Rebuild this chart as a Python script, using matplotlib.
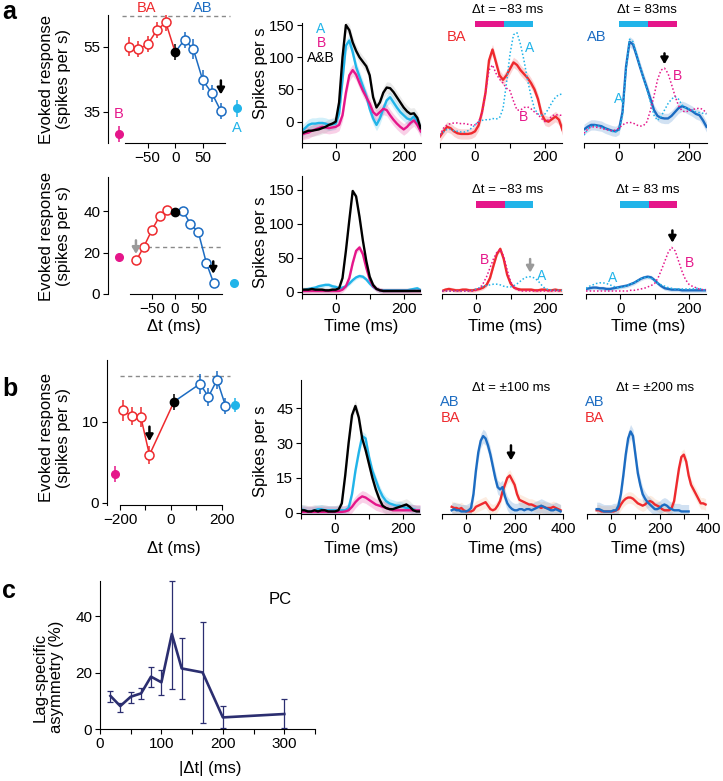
import numpy as np
import matplotlib
matplotlib.use("Agg")
import matplotlib.pyplot as plt
from matplotlib.patches import Rectangle

plt.rcParams['font.family'] = ['Liberation Sans', 'DejaVu Sans']
plt.rcParams['axes.linewidth'] = 0.8

RED = '#ee2a2e'
BLUE = '#1c6cc2'
CYAN = '#21b4e9'
MAG = '#e5168a'
NAVY = '#2b2e70'
GREY = '#8a8a8a'

# ---------------- tuning curves (a top, a bottom, b) ----------------
a1_ba_lag = [-83, -67, -50, -33, -17]
a1_ba = [55.0, 54.2, 55.7, 60.1, 62.4]
a1_ba_err = [3.0, 2.5, 2.5, 2.5, 2.5]
a1_sim = 53.3
a1_sim_err = 2.5
a1_ab_lag = [17, 33, 50, 67, 83]
a1_ab = [57.1, 54.2, 44.7, 40.6, 35.2]
a1_ab_err = [2.5, 3.0, 3.0, 2.5, 2.5]
a1_single_x = [-102, 113]      # B, A
a1_single = [28.1, 36.0]
a1_single_err = [2.5, 2.5]
a1_sum = 64.4

a2_ba_lag = [-83, -67, -50, -33, -17]
a2_ba = [16.4, 22.9, 30.9, 37.8, 40.8]
a2_sim = 39.5
a2_ab_lag = [17, 33, 50, 67, 83]
a2_ab = [40.2, 34.0, 29.9, 15.2, 5.2]
a2_single_x = [-120, 127]
a2_single = [18.1, 5.2]
a2_sum = 22.9

b_ba_lag = [-187, -154, -118, -84]
b_ba = [11.4, 10.7, 10.6, 5.9]
b_ba_err = [1.3, 1.1, 1.2, 1.1]
b_sim_lag = 13
b_sim = 12.5
b_ab_lag = [115, 148, 182, 215]
b_ab = [14.7, 13.1, 15.2, 12.0]
b_ab_err = [1.2, 1.1, 1.1, 1.0]
b_single_x = [-219, 254]
b_single = [3.5, 12.1]
b_sum = 15.7

# ---------------- PSTHs (spikes per s) ----------------
t_a = np.arange(-100, 251, 10)
# a, top row
a1_A = [-15, -10, -5, -3, -3, -2, -2, -3, -5, -4, -3, 12, 65, 118, 126, 108, 85, 70, 55, 40,
        20, 5, -5, 5, 20, 33, 38, 30, 22, 15, 10, 5, 3, 8, 0, -12]
a1_B = [-20, -18, -17, -14, -12, -10, -8, -9, -10, -9, -8, -5, 10, 45, 72, 80, 73, 60, 48, 38,
        28, 15, 10, 15, 20, 18, 10, 3, -3, -8, -12, -8, -2, 2, -5, -15]
a1_AandB = [-18, -16, -14, -14, -13, -12, -10, -8, -5, -3, 0, 30, 100, 150, 142, 123, 110, 100, 93, 86,
            72, 38, 22, 30, 45, 53, 52, 46, 38, 30, 22, 16, 12, 13, 6, -10]
a1_BA = [-23, -15, -8, -10, -15, -18, -19, -19, -19, -18, -15, -6, 15, 45, 95, 112, 92, 72, 65, 72,
         82, 92, 88, 80, 74, 68, 60, 50, 35, 12, 2, 0, 4, 8, 3, -13]
a1_BA_A = [-20, -16, -12, -12, -14, -15, -16, -16, -14, -10, -5, 0, 2, 3, 3, 5, 4, 6, 20, 60,
           105, 135, 138, 120, 95, 65, 40, 20, 12, 10, 12, 20, 30, 38, 42, 43]
a1_BA_B = [-21, -10, -5, -3, -2, -2, -3, -3, -4, -5, -5, 0, 12, 45, 80, 88, 75, 66, 60, 52,
           48, 32, 18, 18, 22, 23, 20, 15, 11, 5, 0, 3, 9, 11, 10, 10]
a1_AB = [-12, -8, -5, -5, -6, -7, -10, -12, -14, -15, -12, 15, 85, 124, 120, 103, 85, 68, 52, 35,
         18, 9, 6, 5, 5, 9, 15, 21, 24, 22, 19, 16, 12, 10, 2, -8]
a1_AB_A = [-21, -12, -8, -6, -7, -9, -11, -13, -15, -16, -13, 10, 80, 128, 124, 105, 86, 68, 50, 30,
           10, 2, 8, 18, 28, 35, 39, 35, 26, 22, 20, 18, 15, 14, 13, 12]
a1_AB_B = [-18, -12, -8, -8, -9, -10, -12, -13, -14, -13, -10, -5, -2, -1, -2, -5, -7, -6, 0, 18,
           40, 65, 80, 83, 75, 58, 40, 25, 17, 15, 17, 19, 20, 21, 19, 13]
# a, bottom row
a2_A = [2, 3, 4, 5, 6, 8, 9, 10, 10, 8, 7, 5, 6, 8, 12, 17, 21, 23, 22, 18,
        12, 7, 4, 2, 2, 2, 2, 2, 2, 2, 2, 2, 3, 4, 5, 2]
a2_B = [1, 1, 1, 1, 1, 1, 1, 1, 1, 1, 1, 1, 3, 8, 20, 42, 60, 65, 55, 35,
        18, 8, 4, 2, 1, 1, 1, 1, 1, 1, 1, 1, 1, 1, 1, 1]
a2_AandB = [3, 3, 3, 4, 3, 3, 3, 2, 2, 3, 3, 5, 20, 60, 105, 148, 140, 110, 75, 45,
            22, 10, 4, 2, 1, 1, 1, 1, 1, 1, 1, 1, 1, 1, 1, 1]
a2_BA = [1, 3, 4, 3, 2, 2, 3, 3, 2, 2, 3, 4, 6, 10, 20, 38, 55, 63, 48, 25,
         12, 6, 4, 3, 3, 3, 3, 2, 2, 3, 3, 2, 2, 3, 2, 2]
a2_BA_A = [1, 1, 1, 1, 1, 1, 1, 1, 1, 2, 4, 6, 8, 9, 10, 11, 11, 10, 8, 7,
           7, 9, 12, 16, 20, 22, 22, 20, 16, 10, 5, 3, 2, 2, 2, 2]
a2_BA_B = [1, 1, 1, 1, 1, 1, 1, 1, 1, 1, 2, 5, 12, 22, 35, 48, 58, 62, 52, 32,
           15, 6, 3, 1, 1, 1, 1, 1, 1, 1, 1, 1, 1, 1, 1, 1]
a2_AB = [4, 5, 6, 6, 5, 5, 4, 4, 5, 6, 7, 8, 9, 11, 13, 16, 19, 21, 22, 21,
         17, 12, 8, 5, 4, 3, 3, 3, 2, 2, 2, 2, 2, 2, 2, 2]
a2_AB_A = [5, 8, 10, 12, 13, 13, 12, 10, 8, 6, 6, 7, 9, 11, 13, 16, 19, 21, 21, 20,
           16, 12, 10, 8, 6, 5, 4, 4, 4, 4, 4, 4, 5, 5, 3, 2]
a2_AB_B = [1, 1, 1, 1, 1, 1, 1, 1, 1, 1, 1, 1, 1, 2, 2, 3, 4, 5, 7, 9,
           12, 20, 32, 45, 58, 65, 60, 45, 30, 18, 11, 8, 6, 4, 3, 3]
# b, middle
b_A = [1.5, 1, 0.5, 0.5, 1, 1.5, 1.5, 1, 1, 1, 1, 1, 1, 1, 2, 8, 18, 26, 33, 32,
       24, 18, 14, 10, 7, 5, 4, 3.5, 3, 3, 2.5, 2, 2, 1.5, 1, 1]
b_B = [0.3, 0.3, 0.3, 0.3, 0.3, 0.3, 0.3, 0.3, 0.3, 0.3, 0.3, 0.3, 0.3, 0.5, 1, 2.5, 4.5, 6, 7, 6.5,
       5.5, 4.5, 3.5, 3, 2.5, 2, 1.5, 1, 1, 1, 1, 1, 1, 1, 1, 1]
b_AandB = [1, 1, 0.5, 0.5, 1, 0.5, 1, 1, 0.5, 0.5, 0.5, 1, 4, 16, 30, 42, 46, 41, 32, 27,
           21, 15, 10, 6, 3, 2, 1.5, 1.5, 2, 2.5, 3, 3.5, 2.5, 1, 0.5, 0.5]
# b, right panels
t_b = np.arange(-60, 391, 10)
b100_AB = [1, 1.5, 1, 1, 0.5, 0.5, 0.5, 1, 2, 8, 18, 26, 31, 33, 32, 29, 25, 20, 15, 11,
           10, 11, 7, 4, 2.5, 1.5, 1, 1, 1.5, 1.5, 1, 1.5, 1.5, 1, 1.5, 2, 2.5, 3, 2.5, 2,
           1.5, 1, 1, 1.5, 1, 0.5]
b100_BA = [2.5, 2, 2, 1.5, 2, 1, 0.5, 0.5, 0.5, 1, 2.5, 3, 3.5, 4, 4.5, 3, 1.5, 1, 1.5, 3,
           5, 9, 12, 15, 16, 14, 12, 8, 5.5, 5, 4.5, 4, 3.5, 3.5, 3, 2.5, 2.5, 2, 2.5, 2,
           2, 2, 2.5, 2, 1.5, 1]
b200_AB = [1.5, 1.5, 1, 0.5, 0.5, 0.5, 0.5, 1, 1, 3, 8, 16, 25, 32, 35, 33, 25, 17, 12, 8,
           6, 4.5, 3.5, 2.5, 1.5, 1.5, 2, 3, 3.5, 3, 2, 1.5, 1, 1, 1, 0.5, 0.5, 0.5, 0.5,
           np.nan, np.nan, np.nan, np.nan, np.nan, np.nan, np.nan]
b200_BA = [1, 1, 0.5, 0.5, 0.5, 0.5, 0.5, 0.5, 1, 1.5, 3.5, 5, 6, 6.5, 6.5, 6, 5, 4, 3.5, 3,
           3.5, 4.5, 5, 4.5, 3.5, 3, 2.5, 1.5, 1, 1, 1, 2, 5, 12, 19, 24, 25, 22, 16, 12,
           10, 8, 6, 4, 4, 3.5]

# ---------------- c ----------------
c_lag = [17, 33, 50, 67, 83, 100, 117, 133, 167, 200, 300]
c_asym = [11.8, 8.2, 11.5, 12.7, 18.6, 16.6, 33.7, 21.5, 20.1, 4.2, 5.4]
c_hi = [13.6, 9.4, 13.3, 14.5, 22.1, 21.0, 52.5, 32.4, 38.0, 8.3, 10.6]
c_lo = [9.8, 6.2, 9.4, 10.6, 14.8, 12.1, 14.2, 10.6, 2.1, 0.3, 0.3]

W, H = 723, 781
fig = plt.figure(figsize=(W / 100, H / 100), dpi=100)


def axpx(l, t, r, b):
    return fig.add_axes([l / W, 1 - b / H, (r - l) / W, (b - t) / H])


def ftext(x, y, s, **kw):
    kw.setdefault('ha', 'center')
    kw.setdefault('va', 'center')
    fig.text(x / W, 1 - y / H, s, **kw)


def style(ax, left=True):
    ax.spines['top'].set_visible(False)
    ax.spines['right'].set_visible(False)
    ax.tick_params(direction='out', length=3.5, width=0.8, labelsize=11, pad=2)
    ax.patch.set_alpha(0)
    if not left:
        ax.spines['left'].set_visible(False)
        ax.tick_params(left=False, labelleft=False)


def arrow(ax, x, y0, y1, color='k'):
    ax.annotate('', xy=(x, y1), xytext=(x, y0), annotation_clip=False,
                arrowprops=dict(arrowstyle='-|>,head_width=0.22,head_length=0.38',
                                color=color, lw=1.8, shrinkA=0, shrinkB=0))


def tuning(ax, ba_lag, ba, sim_lag, sim, ab_lag, ab, sx, sy,
           ba_err=None, sim_err=None, ab_err=None, s_err=None):
    ax.plot(list(ba_lag) + [sim_lag], list(ba) + [sim], color=RED, lw=1.1, zorder=2)
    ax.plot([sim_lag] + list(ab_lag), [sim] + list(ab), color=BLUE, lw=1.1, zorder=2)
    if ba_err is not None:
        ax.errorbar(ba_lag, ba, yerr=ba_err, fmt='none', ecolor=RED, elinewidth=1.1, zorder=1)
        ax.errorbar(ab_lag, ab, yerr=ab_err, fmt='none', ecolor=BLUE, elinewidth=1.1, zorder=1)
        ax.errorbar([sim_lag], [sim], yerr=[sim_err], fmt='none', ecolor='k', elinewidth=1.1, zorder=1)
        ax.errorbar(sx[:1], sy[:1], yerr=s_err[:1], fmt='none', ecolor=MAG, elinewidth=1.1)
        ax.errorbar(sx[1:], sy[1:], yerr=s_err[1:], fmt='none', ecolor=CYAN, elinewidth=1.1)
    ax.plot(ba_lag, ba, 'o', mfc='white', mec=RED, ms=6.5, mew=1.1, zorder=3)
    ax.plot(ab_lag, ab, 'o', mfc='white', mec=BLUE, ms=6.5, mew=1.1, zorder=3)
    ax.plot([sim_lag], [sim], 'o', color='k', ms=6, zorder=3)
    ax.plot(sx[:1], sy[:1], 'o', color=MAG, ms=5.5, zorder=3, clip_on=False)
    ax.plot(sx[1:], sy[1:], 'o', color=CYAN, ms=5.5, zorder=3, clip_on=False)


def trace(ax, t, y, color, sem=None, band=None):
    y = np.asarray(y, float)
    if sem is not None:
        ax.fill_between(t, y - sem, y + sem, color=band or color, alpha=0.2, lw=0)
    ax.plot(t, y, color=color, lw=1.7)


def dotted(ax, t, y, color):
    ax.plot(t, y, color=color, lw=1.1, ls=(0, (1, 1.4)))


def time_ticks(ax, ticks, labeled):
    ax.set_xticks(ticks)
    ax.set_xticklabels([str(v) if v in labeled else '' for v in ticks])


# ---- a, top left
ax = axpx(108, 15, 244, 143)
style(ax)
tuning(ax, a1_ba_lag, a1_ba, 0, a1_sim, a1_ab_lag, a1_ab, a1_single_x, a1_single,
       a1_ba_err, a1_sim_err, a1_ab_err, a1_single_err)
ax.plot([-97, 100], [a1_sum, a1_sum], ls=(0, (3, 2.5)), color=GREY, lw=1)
arrow(ax, 83, 44.6, 40.3)
ax.set_xlim(-122, 125)
ax.set_ylim(25.4, 64.7)
ax.set_yticks([35, 55])
ax.set_xticks([-50, 0, 50])
ax.spines['bottom'].set_bounds(-91, 91)

# ---- a, bottom left
ax = axpx(108, 177, 244, 294)
style(ax)
tuning(ax, a2_ba_lag, a2_ba, 0, a2_sim, a2_ab_lag, a2_ab, a2_single_x, a2_single)
ax.plot([-93, 100], [a2_sum, a2_sum], ls=(0, (3, 2.5)), color=GREY, lw=1, zorder=0)
arrow(ax, -84, 26.0, 19.4, color='#9a9a9a')
arrow(ax, 82, 15.8, 9.8)
ax.set_xlim(-144, 148)
ax.set_ylim(0, 56.7)
ax.set_yticks([0, 20, 40])
ax.set_xticks([-50, 0, 50])
ax.spines['bottom'].set_bounds(-97, 100)

# ---- b, left
ax = axpx(107, 360, 244, 505)
style(ax)
tuning(ax, b_ba_lag, b_ba, b_sim_lag, b_sim, b_ab_lag, b_ab, b_single_x, b_single,
       b_ba_err, 1.0, b_ab_err, [1.0, 0.9])
ax.plot([-200, 233], [b_sum, b_sum], ls=(0, (3, 2.5)), color=GREY, lw=1, zorder=0)
arrow(ax, -84, 9.4, 7.6)
ax.set_xlim(-251, 288)
ax.set_ylim(-0.3, 17.65)
ax.set_yticks([0, 10])
ax.set_xticks([-200, -100, 0, 100, 200])
ax.set_xticklabels(['\u2212200', '', '0', '', '200'])
ax.spines['bottom'].set_bounds(-200, 200)

# ---- a, top PSTHs
ax = axpx(301.7, 22.7, 420.7, 142.7)
style(ax)
trace(ax, t_a, a1_A, CYAN, 9)
trace(ax, t_a, a1_B, MAG, 9)
trace(ax, t_a, a1_AandB, 'k', 9, band='#999999')
ax.set_xlim(-100, 250)
ax.set_ylim(-32.6, 153.6)
ax.set_yticks([0, 50, 100, 150])
time_ticks(ax, [-100, 0, 100, 200], [0, 200])

for left, trA, trB, trS, col, lab in [(440, a1_BA_A, a1_BA_B, a1_BA, RED, 'BA'),
                                      (584, a1_AB_A, a1_AB_B, a1_AB, BLUE, 'AB')]:
    ax = axpx(left, 22.7, left + 122.5, 142.7)
    style(ax, left=False)
    trace(ax, t_a, trS, col, 8)
    dotted(ax, t_a, trA, CYAN)
    dotted(ax, t_a, trB, MAG)
    ax.set_xlim(-100, 250)
    ax.set_ylim(-32.6, 153.6)
    time_ticks(ax, [-100, 0, 100, 200], [0, 200])
    first, second = (MAG, CYAN) if lab == 'BA' else (CYAN, MAG)
    ax.add_patch(Rectangle((0, 147.3), 83, 9.3, color=first, lw=0, clip_on=False))
    ax.add_patch(Rectangle((83, 147.3), 83, 9.3, color=second, lw=0, clip_on=False))
    if lab == 'AB':
        arrow(ax, 130, 106, 89)

# ---- a, bottom PSTHs
ax = axpx(301.7, 176, 420.7, 294)
style(ax)
trace(ax, t_a, a2_A, CYAN, 3)
trace(ax, t_a, a2_B, MAG, 4)
trace(ax, t_a, a2_AandB, 'k', 4, band='#999999')
ax.set_xlim(-100, 250)
ax.set_ylim(-3.4, 170)
ax.set_yticks([0, 50, 100, 150])
time_ticks(ax, [-100, 0, 100, 200], [0, 200])

for left, trA, trB, trS, col, lab in [(442, a2_BA_A, a2_BA_B, a2_BA, RED, 'BA'),
                                      (586, a2_AB_A, a2_AB_B, a2_AB, BLUE, 'AB')]:
    ax = axpx(left, 176, left + 120, 294)
    style(ax, left=False)
    trace(ax, t_a, trS, col, 3)
    dotted(ax, t_a, trA, CYAN)
    dotted(ax, t_a, trB, MAG)
    ax.set_xlim(-100, 250)
    ax.set_ylim(-3.4, 170)
    time_ticks(ax, [-100, 0, 100, 200], [0, 200])
    first, second = (MAG, CYAN) if lab == 'BA' else (CYAN, MAG)
    ax.add_patch(Rectangle((0, 122.4), 83, 10.2, color=first, lw=0, clip_on=False))
    ax.add_patch(Rectangle((83, 122.4), 83, 10.2, color=second, lw=0, clip_on=False))
    if lab == 'BA':
        arrow(ax, 157, 48, 28, color='#9a9a9a')
    else:
        arrow(ax, 152, 90, 72)

# ---- b, PSTHs
ax = axpx(301, 380, 420, 514)
style(ax)
trace(ax, t_a, b_A, CYAN, 2)
trace(ax, t_a, b_B, MAG, 2.5)
trace(ax, t_a, b_AandB, 'k', 2.5, band='#999999')
ax.set_xlim(-100, 250)
ax.set_ylim(-0.6, 57.2)
ax.set_yticks([0, 15, 30, 45])
time_ticks(ax, [-100, 0, 100, 200], [0, 200])

for left, trAB, trBA in [(442, b100_AB, b100_BA), (587, b200_AB, b200_BA)]:
    ax = axpx(left, 380, left + 121, 514)
    style(ax, left=False)
    trace(ax, t_b, trBA, RED, 2.5, band='#f4a46a')
    trace(ax, t_b, trAB, BLUE, 3)
    ax.set_xlim(-100, 400)
    ax.set_ylim(-0.6, 57.2)
    time_ticks(ax, [-100, 0, 100, 200, 300, 400], [0, 200, 400])
    if left == 442:
        arrow(ax, 185, 29, 22.5)

# ---- c
ax = axpx(100, 580.7, 315, 729.3)
style(ax)
yerr = [np.subtract(c_asym, c_lo), np.subtract(c_hi, c_asym)]
ax.errorbar(c_lag, c_asym, yerr=yerr, fmt='none', ecolor=NAVY, elinewidth=0.9,
            capsize=2.2, capthick=0.9, clip_on=False)
ax.plot(c_lag, c_asym, color=NAVY, lw=1.9)
ax.set_xlim(0, 350)
ax.set_ylim(0, 52.5)
ax.set_xticks(np.arange(0, 351, 50))
ax.set_xticklabels(['0', '', '100', '', '200', '', '300', ''])
ax.set_yticks([0, 20, 40])

# ---- texts
ftext(9, 12, 'a', fontsize=18, fontweight='bold')
ftext(10, 389, 'b', fontsize=18, fontweight='bold')
ftext(9, 591, 'c', fontsize=18, fontweight='bold')

ftext(147, 8, 'BA', color=RED, fontsize=10.5)
ftext(203, 8, 'AB', color=BLUE, fontsize=10.5)
ftext(119, 114, 'B', color=MAG, fontsize=10.5)
ftext(237, 128, 'A', color=CYAN, fontsize=10.5)

for yc in (79, 236, 438):
    ftext(55, yc, 'Evoked response\n(spikes per s)', rotation=90, fontsize=12, linespacing=1.15)
for yc in (73, 242, 451):
    ftext(261, yc, 'Spikes per s', rotation=90, fontsize=12)
ftext(174, 326, '\u0394t (ms)', fontsize=12)
ftext(174, 548, '\u0394t (ms)', fontsize=12)
for xc in (361, 505, 648):
    ftext(xc, 326, 'Time (ms)', fontsize=12)
    ftext(xc, 548, 'Time (ms)', fontsize=12)

ftext(321, 29, 'A', color=CYAN, fontsize=10)
ftext(321, 43, 'B', color=MAG, fontsize=10)
ftext(321, 58, 'A&B', color='k', fontsize=10)

ftext(508, 10, '\u0394t = \u221283 ms', fontsize=9.5)
ftext(647, 10, '\u0394t = 83ms', fontsize=9.5)
ftext(457, 37, 'BA', color=RED, fontsize=10.5)
ftext(530, 48, 'A', color=CYAN, fontsize=10)
ftext(523, 117, 'B', color=MAG, fontsize=10)
ftext(597, 37, 'AB', color=BLUE, fontsize=10.5)
ftext(619, 99, 'A', color=CYAN, fontsize=10)
ftext(677, 76, 'B', color=MAG, fontsize=10)

ftext(508, 190, '\u0394t = \u221283 ms', fontsize=9.5)
ftext(648, 190, '\u0394t = 83 ms', fontsize=9.5)
ftext(485, 260, 'B', color=MAG, fontsize=10)
ftext(542, 276, 'A', color=CYAN, fontsize=10)
ftext(613, 278, 'A', color=CYAN, fontsize=10)
ftext(690, 263, 'B', color=MAG, fontsize=10)

ftext(511, 388, '\u0394t = \u00b1100 ms', fontsize=9.5)
ftext(655, 388, '\u0394t = \u00b1200 ms', fontsize=9.5)
ftext(450, 402, 'AB', color=BLUE, fontsize=10.5)
ftext(450, 418, 'BA', color=RED, fontsize=10.5)
ftext(595, 402, 'AB', color=BLUE, fontsize=10.5)
ftext(595, 418, 'BA', color=RED, fontsize=10.5)

ftext(280, 600, 'PC', fontsize=12)
ftext(48, 677, 'Lag-specific\nasymmetry (%)', rotation=90, fontsize=12, linespacing=1.1)
ftext(210, 768, '|\u0394t| (ms)', fontsize=12)

fig.savefig('out.png', dpi=100)
